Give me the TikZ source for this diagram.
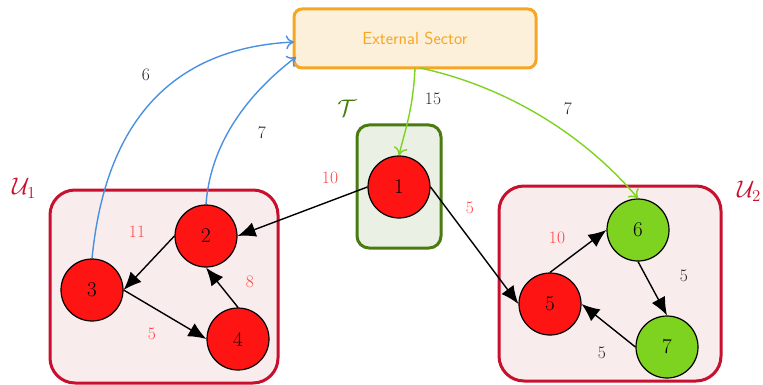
\RequirePackage{fix-cm}
\documentclass[tikz,border=0pt]{standalone}
\usetikzlibrary{arrows.meta}
\definecolor{crim}{HTML}{C8102E}
\definecolor{pinkf}{HTML}{F8ECEC}
\definecolor{tgreen}{HTML}{4A7A10}
\definecolor{tgreenf}{HTML}{EAF0E4}
\definecolor{orng}{HTML}{F5A623}
\definecolor{orngf}{HTML}{FDF0DA}
\definecolor{nred}{HTML}{FF1414}
\definecolor{ngreen}{HTML}{7ED321}
\definecolor{lred}{HTML}{FF4545}
\definecolor{eblue}{HTML}{4A90E2}
\begin{document}
\begin{tikzpicture}[x=1pt,y=-1pt,
  vnode/.style={circle,draw=black,line width=1.2pt,minimum size=62pt,inner sep=0pt,font=\fontsize{21}{23}\selectfont},
  rnode/.style={vnode,fill=nred},
  gnode/.style={vnode,fill=ngreen},
  grp/.style={draw=crim,fill=pinkf,line width=3pt,rounded corners=25pt},
  edge/.style={draw=black,line width=1.4pt,-{Latex[length=18pt,width=15pt]}},
  flowb/.style={draw=eblue,line width=1.4pt,-{To[length=8pt,width=14pt]}},
  flowg/.style={draw=ngreen,line width=1.4pt,-{To[length=8pt,width=14pt]}},
  wl/.style={text=lred,font=\fontsize{17.5}{19}\selectfont},
  bl/.style={text=black!85,font=\fontsize{17.5}{19}\selectfont},
  glabel/.style={font=\fontsize{24}{26}\selectfont}]
\useasboundingbox (0,0) rectangle (763,385);
% groups
\draw[grp] (50,190) rectangle (278,383);
\draw[grp] (499,186) rectangle (721,381);
\draw[draw=tgreen,fill=tgreenf,line width=3pt,rounded corners=12pt] (357,125) rectangle (441,248);
\node[draw=orng,fill=orngf,line width=3pt,rounded corners=8pt,minimum width=242pt,minimum height=59pt,text=orng,font=\sffamily\fontsize{17.5}{19}\selectfont] (ext) at (415,38.5) {External Sector};
\node[glabel,text=crim] (lu1) at (24,188) {$\mathcal{U}_1$};
\node[glabel,text=crim] (lu2) at (749,191) {$\mathcal{U}_2$};
\node[glabel,text=tgreen] (lt) at (347,108) {$\mathcal{T}$};
% nodes
\node[rnode] (n1) at (399,187) {1};
\node[rnode] (n2) at (206,236) {2};
\node[rnode] (n3) at (92,290) {3};
\node[rnode] (n4) at (238,339) {4};
\node[rnode] (n5) at (550,304) {5};
\node[gnode] (n6) at (638,230) {6};
\node[gnode] (n7) at (667,347) {7};
% edges
\draw[edge] (n1.west) -- (n2.east);
\draw[edge] (n1.east) -- (n5.west);
\draw[edge] (n2.west) -- (n3.east);
\draw[edge] (n3.east) -- (n4.west);
\draw[edge] (n4.north) -- (n2.south);
\draw[edge] (n5.north) -- (n6.west);
\draw[edge] (n6.south) -- (n7.north);
\draw[edge] (n7.west) -- (n5.east);
% flows
\coordinate (e3) at (294,42);
\coordinate (e2) at (296,57);
\coordinate (eb1) at (415,68);
\coordinate (eb6) at (420,68);
\draw[flowb] (n3.north) .. controls (100,180) and (130,50) .. (e3);
\draw[flowb] (n2.north) .. controls (210,150) and (240,100) .. (e2);
\draw[flowg] (eb1) .. controls (413,110) and (405,130) .. (n1.north);
\draw[flowg] (eb6) .. controls (500,85) and (580,130) .. (n6.north);
% weights
\node[wl] (w10a) at (330,178) {10};
\node[wl] (w5a) at (470,208) {5};
\node[wl] (w11) at (137,232) {11};
\node[wl] (w8) at (250,282) {8};
\node[wl] (w5b) at (152,334) {5};
\node[wl] (w10b) at (557,238) {10};
\node[bl] (w5c) at (684,276) {5};
\node[bl] (w5d) at (602,353) {5};
\node[bl] (w15) at (433,99) {15};
\node[bl] (w7a) at (568,109) {7};
\node[bl] (w6) at (146,75) {6};
\node[bl] (w7b) at (262,133) {7};
\end{tikzpicture}
\end{document}
